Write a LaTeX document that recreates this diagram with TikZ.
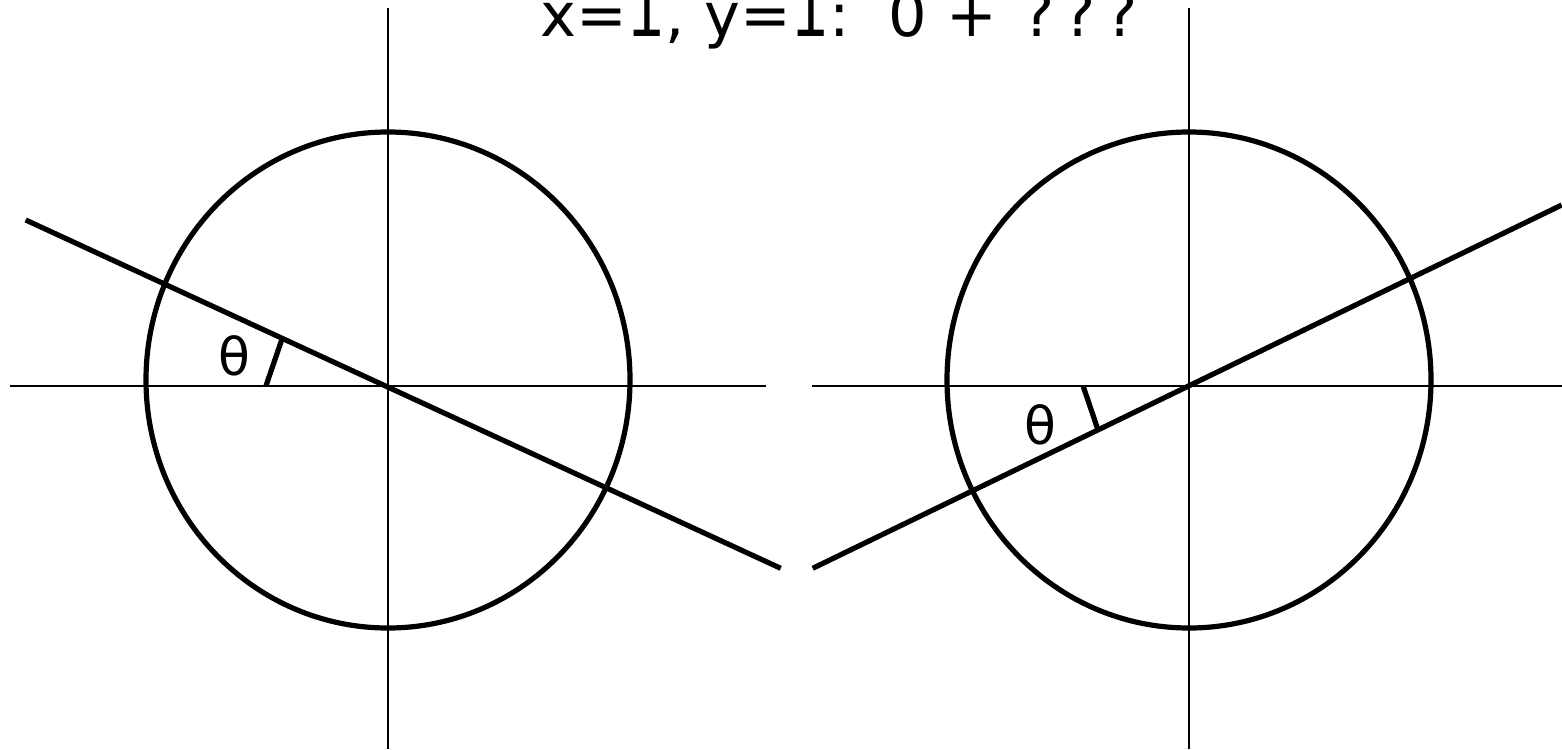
\documentclass[tikz,border=0pt]{standalone}
\usepackage{calc}
\usepackage{graphicx}
\usepackage{fontspec}
\setmainfont{DejaVu Sans}
\newfontfamily\libsans{Liberation Sans}
\newcommand{\onedigit}{\makebox[\widthof{1}][c]{\scalebox{1}[1.4]{\libsans 1}}}
\begin{document}
\begin{tikzpicture}[x=0.5pt,y=-0.5pt,
  axis/.style={line width=1pt,black},
  thick line/.style={line width=2.6pt,black},
  lbl/.style={inner sep=0pt,font=\fontsize{26pt}{30pt}\selectfont}]
\clip (0,0) rectangle (1562,749);
\useasboundingbox (0,0) rectangle (1562,749);
% title (clipped at top, as in the reference)
\node[inner sep=0pt,anchor=base west,font=\fontsize{30.3pt}{36pt}\selectfont] (title) at (540.2,37) {x=\onedigit, y=\onedigit:\ \ 0 + \kern3pt?\kern4.7pt?\kern4.7pt?};
% left figure
\coordinate (L) at (388,385.7);
\draw[axis] (10,385.7) -- (766,385.7);
\draw[axis] (388,8) -- (388,749);
\draw[thick line] (388,380) ellipse [x radius=242, y radius=248];
\coordinate (la) at (25.7,220);
\coordinate (lb) at (780.7,568.3);
\draw[thick line] (la) -- (lb);
\coordinate (lt1) at (266,385.7);
\coordinate (lt2) at (282,339);
\draw[thick line] (lt1) -- (lt2);
\node[lbl] (thL) at (234.7,356) {θ};
% right figure
\coordinate (R) at (1189,385.7);
\draw[axis] (811.7,385.7) -- (1562,385.7);
\draw[axis] (1189,8) -- (1189,749);
\draw[thick line] (1189,380) ellipse [x radius=242, y radius=248];
\coordinate (ra) at (812.7,568.3);
\coordinate (rb) at (1561.7,205);
\draw[thick line] (ra) -- (rb);
\coordinate (rt1) at (1083,385.7);
\coordinate (rt2) at (1098,430);
\draw[thick line] (rt1) -- (rt2);
\node[lbl] (thR) at (1040,425) {θ};
\end{tikzpicture}
\end{document}
